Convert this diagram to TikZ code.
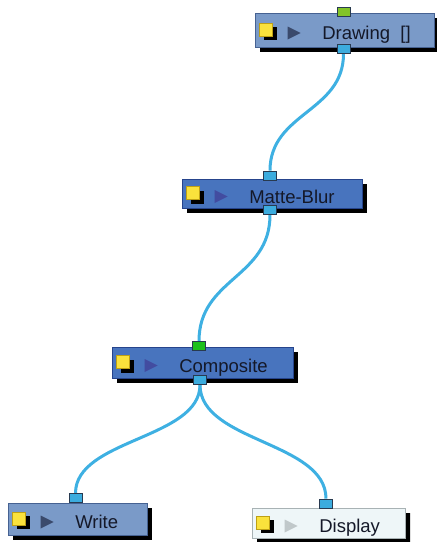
\documentclass[tikz,border=0pt]{standalone}
\usepackage{fontspec}
\setmainfont{Liberation Sans}
\usetikzlibrary{positioning,shadows,shapes.misc,backgrounds}

\definecolor{boxlight}{RGB}{122,154,200}
\definecolor{boxlightline}{RGB}{70,98,146}
\definecolor{boxdark}{RGB}{72,116,190}
\definecolor{boxdarkline}{RGB}{38,68,140}
\definecolor{boxwhite}{RGB}{238,246,248}
\definecolor{boxwhiteline}{RGB}{168,178,180}
\definecolor{portblue}{RGB}{60,172,222}
\definecolor{portline}{RGB}{40,58,80}
\definecolor{portlime}{RGB}{130,196,40}
\definecolor{portgreen}{RGB}{28,192,28}
\definecolor{wireblue}{RGB}{62,176,226}
\definecolor{iconyellow}{RGB}{250,226,60}
\definecolor{iconyellowline}{RGB}{190,160,20}
\definecolor{triadark}{RGB}{58,74,108}
\definecolor{triablue}{RGB}{66,76,160}
\definecolor{triagray}{RGB}{192,200,202}
\definecolor{labeltext}{RGB}{20,24,40}

\tikzset{
  fxbox/.style={draw=boxlightline, fill=boxlight, line width=0.8pt, inner sep=0pt,
    general shadow={fill=black, shadow xshift=5pt, shadow yshift=-5pt}},
  fxdark/.style={fxbox, draw=boxdarkline, fill=boxdark},
  fxwhite/.style={fxbox, draw=boxwhiteline, fill=boxwhite, chamfered rectangle,
    chamfered rectangle corners=north east, chamfered rectangle sep=4pt},
  fxlabel/.style={inner sep=0pt, text height=19pt, text depth=0pt, text=labeltext,
    font=\fontsize{18.5pt}{20pt}\selectfont, node distance=67.5pt},
  port/.style={draw=portline, fill=portblue, line width=0.7pt, inner sep=0pt,
    minimum width=13pt, minimum height=9pt},
  wire/.style={draw=wireblue, line width=3pt},
}

% yellow square with its shadow, and the play triangle
\newcommand\fxicons[2]{%
  \fill[black] ([shift={(9,-3)}]#1.west) rectangle ++(13,13);
  \filldraw[fill=iconyellow, draw=iconyellowline, line width=0.6pt]
    ([shift={(5,-7)}]#1.west) rectangle ++(13,13);
  \fill[#2] ([shift={(33,-3.5)}]#1.west) -- ++(0,13) -- ++(13,-6.5) -- cycle;
}

\begin{document}
\begin{tikzpicture}[x=1pt, y=-1pt]
\useasboundingbox (0,0) rectangle (437,542);

% ----------------------------------------------------
% Nodes
% ----------------------------------------------------
\node[fxbox, minimum width=179, minimum height=34] (drawing) at (344.5,30) {};
\node[fxdark, minimum width=180, minimum height=29] (matte) at (272,193.5) {};
\node[fxdark, minimum width=181, minimum height=31] (composite) at (202.5,362.5) {};
\node[fxbox, minimum width=139, minimum height=32] (write) at (77.5,519) {};
\node[fxwhite, minimum width=153, minimum height=30] (display) at (328.5,523) {};

\fxicons{drawing}{triadark}
\fxicons{matte}{triablue}
\fxicons{composite}{triablue}
\fxicons{write}{triadark}
\fxicons{display}{triagray}

\node[fxlabel, right=of drawing.west] (drawing-label) {Drawing\ \ []};
\node[fxlabel, right=of matte.west] (matte-label) {Matte-Blur};
\node[fxlabel, right=of composite.west] (composite-label) {Composite};
\node[fxlabel, right=of write.west] (write-label) {Write};
\node[fxlabel, right=of display.west] (display-label) {Display};

% ----------------------------------------------------
% Ports
% ----------------------------------------------------
\node[port, fill=portlime] (drawing-in) at (343.5,12) {};
\node[port] (drawing-out) at (343.5,49) {};
\node[port] (matte-in) at (270,175.5) {};
\node[port] (matte-out) at (270,210) {};
\node[port, fill=portgreen] (composite-in) at (199,346) {};
\node[port] (composite-out) at (200,380) {};
\node[port] (write-in) at (75.5,498) {};
\node[port] (display-in) at (326,503.5) {};

% ----------------------------------------------------
% Cables
% ----------------------------------------------------
\begin{scope}[on background layer]
  \draw[wire] (drawing-out) .. controls +(0,63) and +(0,-63) .. (matte-in);
  \draw[wire] (matte-out) .. controls +(0,68) and +(0,-68) .. (composite-in);
  \draw[wire] (composite-out) .. controls +(0,59) and +(0,-59) .. (write-in);
  \draw[wire] (composite-out) .. controls +(0,62) and +(0,-62) .. (display-in);
\end{scope}

\end{tikzpicture}
\end{document}
